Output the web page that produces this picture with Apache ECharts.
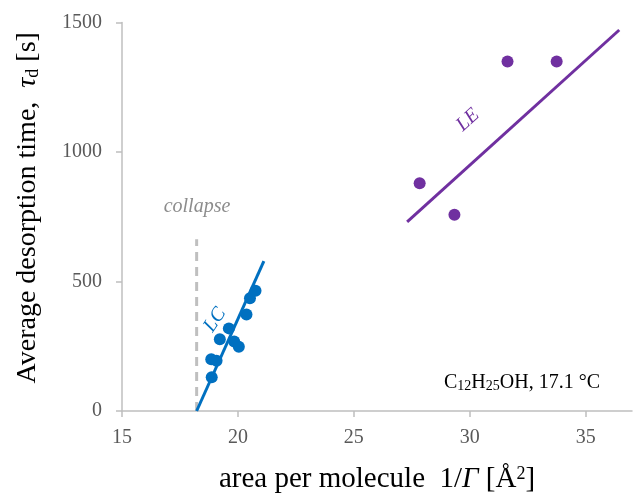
<!DOCTYPE html>
<html>
<head>
<meta charset="utf-8">
<script src="https://cdn.jsdelivr.net/npm/echarts@6/dist/echarts.min.js"></script>
<style>html,body{margin:0;padding:0;background:#fff}#c{width:633px;height:494px}</style>
</head>
<body>
<div id="c"></div>
<script>
// LC (liquid condensed) data points
const lcX = [18.87, 18.85, 19.08, 19.22, 19.61, 19.84, 20.04, 20.37, 20.52, 20.76];
const lcY = [130, 200, 194, 277, 319, 268, 248, 373, 435, 464];
// LE (liquid expanded) data points
const leX = [27.84, 29.34, 31.63, 33.75];
const leY = [879, 758, 1349, 1349];
// fitted lines (endpoints)
const lcFitX = [18.22, 21.12];
const lcFitY = [0, 579];
const leFitX = [27.3, 36.45];
const leFitY = [730, 1471];
// collapse marker
const collapseX = [18.22, 18.22];
const collapseY = [0, 663];
// ticks
const xTicks = [15, 20, 25, 30, 35];
const yTicks = [0, 500, 1000, 1500];

const zip = (a, b) => a.map((v, i) => [v, b[i]]);
const FONT = '"Liberation Serif", "Times New Roman", serif';
const BLUE = '#0070C0', PURPLE = '#7030A0';

const chart = echarts.init(document.getElementById('c'), null, {renderer: 'canvas'});
chart.setOption({
  animation: false,
  backgroundColor: '#fff',
  grid: {left: 122, right: 1, top: 22.5, bottom: 83, containLabel: false, outerBoundsMode: 'none'},
  xAxis: {
    type: 'value', min: 15, max: 37,
    axisLine: {show: true, lineStyle: {color: '#BFBFBF', width: 1.5}},
    axisTick: {show: true, length: 6, lineStyle: {color: '#BFBFBF', width: 1.5}, customValues: xTicks},
    axisLabel: {color: '#595959', fontFamily: FONT, fontSize: 20, margin: 17, customValues: xTicks,
      formatter: v => String(v)},
    splitLine: {show: false},
    name: 'area per molecule  1/{it|Γ} [Å{sup|2}]',
    nameLocation: 'middle', nameGap: 54,
    nameTextStyle: {
      color: '#000', fontFamily: FONT, fontSize: 29,
      rich: {
        it: {fontFamily: FONT, fontSize: 29, fontStyle: 'italic', color: '#000'},
        sup: {fontFamily: FONT, fontSize: 18, color: '#000', verticalAlign: 'top'}
      }
    }
  },
  yAxis: {
    type: 'value', min: 0, max: 1500, interval: 500,
    axisLine: {show: true, lineStyle: {color: '#BFBFBF', width: 1.5}},
    axisTick: {show: true, length: 6, lineStyle: {color: '#BFBFBF', width: 1.5}, customValues: yTicks},
    axisLabel: {color: '#595959', fontFamily: FONT, fontSize: 20, margin: 20, customValues: yTicks,
      formatter: v => String(v)},
    splitLine: {show: false},
    name: 'Average desorption time,  {it|τ}{sub|d} [s]',
    nameLocation: 'middle', nameGap: 80, nameRotate: 90,
    nameTextStyle: {
      color: '#000', fontFamily: FONT, fontSize: 28, padding: [0, 0, 0, 18],
      rich: {
        it: {fontFamily: FONT, fontSize: 28, fontStyle: 'italic', color: '#000'},
        sub: {fontFamily: FONT, fontSize: 18, color: '#000', verticalAlign: 'bottom'}
      }
    }
  },
  series: [
    {
      type: 'line', data: zip(collapseX, collapseY), symbol: 'none', silent: true,
      lineStyle: {color: '#BFBFBF', width: 3, type: [9, 6]}
    },
    {
      type: 'scatter', data: zip(lcX, lcY), symbol: 'circle', symbolSize: 12,
      itemStyle: {color: BLUE, opacity: 1}
    },
    {
      type: 'scatter', data: zip(leX, leY), symbol: 'circle', symbolSize: 12,
      itemStyle: {color: PURPLE, opacity: 1}
    },
    {
      type: 'line', data: zip(lcFitX, lcFitY), symbol: 'none', silent: true,
      lineStyle: {color: BLUE, width: 3}
    },
    {
      type: 'line', data: zip(leFitX, leFitY), symbol: 'none', silent: true,
      lineStyle: {color: PURPLE, width: 3}
    }
  ],
  graphic: [
    {
      type: 'text', x: 197, y: 207,
      style: {text: 'collapse', fill: '#8C8C8C', font: 'italic 20px ' + FONT, align: 'center', verticalAlign: 'middle'}
    },
    {
      type: 'text', x: 215, y: 320, rotation: 56 * Math.PI / 180,
      style: {text: 'LC', fill: BLUE, font: 'italic 20px ' + FONT, align: 'center', verticalAlign: 'middle'}
    },
    {
      type: 'text', x: 468, y: 120, rotation: 42 * Math.PI / 180,
      style: {text: 'LE', fill: PURPLE, font: 'italic 20px ' + FONT, align: 'center', verticalAlign: 'middle'}
    },
    {
      type: 'text', x: 522, y: 383,
      style: {
        text: 'C{sub|12}H{sub|25}OH, 17.1 °C',
        fill: '#000', font: '20px ' + FONT, align: 'center', verticalAlign: 'middle',
        rich: {sub: {fontFamily: FONT, fontSize: 14, fill: '#000', verticalAlign: 'bottom'}}
      }
    }
  ]
});
</script>
</body>
</html>
